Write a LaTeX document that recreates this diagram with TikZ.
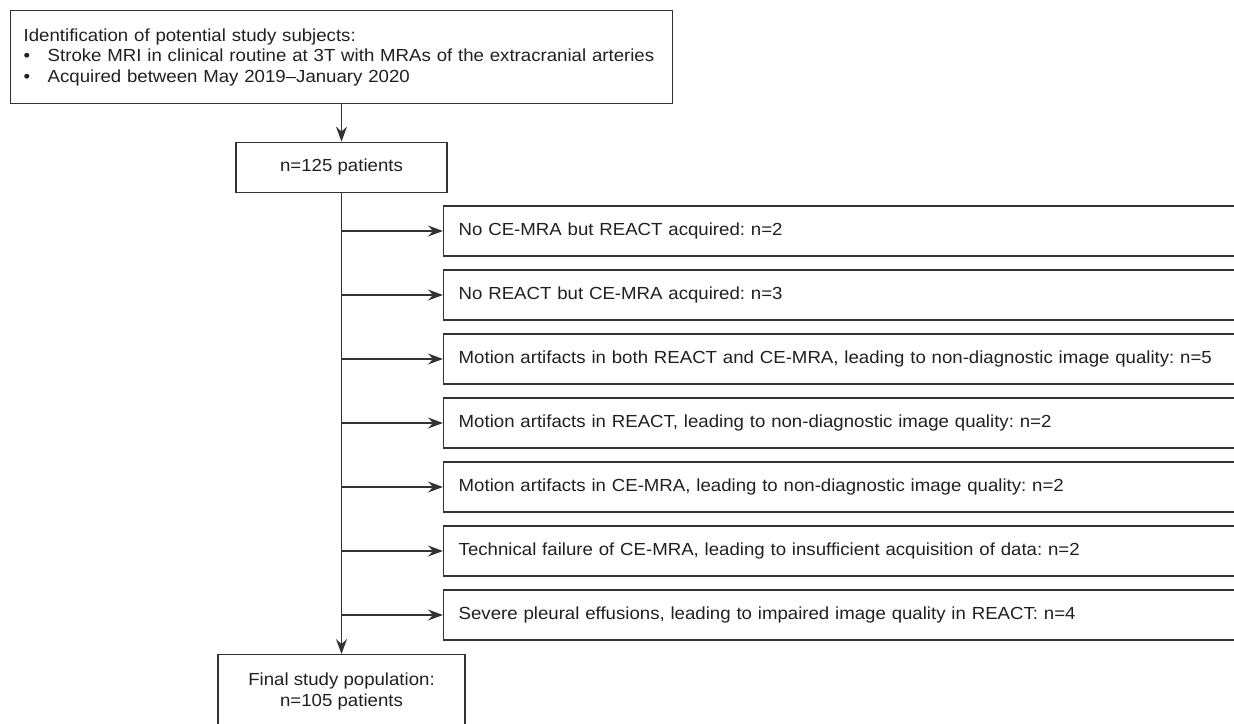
\documentclass[tikz,border=0pt]{standalone}
\usepackage{fontspec}
\setmainfont{Liberation Sans}[FakeStretch=1.065]
\usetikzlibrary{arrows.meta}
\definecolor{ink}{HTML}{231F20}
\definecolor{rulec}{HTML}{333333}
\frenchspacing
\begin{document}
\begin{tikzpicture}[x=1pt,y=-1pt,
  box/.style={draw=rulec, line width=1.4pt, text=ink, font=\fontsize{17.5}{20.5}\selectfont, inner sep=0pt},
  exbox/.style={box, anchor=west, minimum height=50pt, inner xsep=15pt, text width=800pt, align=left},
  arr/.style={draw=rulec, line width=1.4pt, -{Stealth[length=15pt,width=11pt,inset=5pt]}},
  ]
\useasboundingbox (0,0) rectangle (1234,723);
\clip (0,0) rectangle (1234,723);

\node[box, anchor=north west, minimum height=93pt, inner xsep=4pt, text width=654pt, align=left] (top) at (10,10)
  {\hspace*{9pt}Identification of potential study subjects:\\
   \hspace*{9pt}\makebox[24pt][l]{\textbullet}Stroke MRI in clinical routine at 3T with MRAs of the extracranial arteries\\
   \hspace*{9pt}\makebox[24pt][l]{\textbullet}Acquired between May 2019–January 2020};

\node[box, minimum width=211pt, minimum height=50pt] (n) at (341.5,167.3) {n=125 patients};

\node[exbox] (e1) at (443,231) {No CE-MRA but REACT acquired: n=2};
\node[exbox] (e2) at (443,295) {No REACT but CE-MRA acquired: n=3};
\node[exbox] (e3) at (443,359) {Motion artifacts in both REACT and CE-MRA, leading to non-diagnostic image quality: n=5};
\node[exbox] (e4) at (443,423) {Motion artifacts in REACT, leading to non-diagnostic image quality: n=2};
\node[exbox] (e5) at (443,487) {Motion artifacts in CE-MRA, leading to non-diagnostic image quality: n=2};
\node[exbox] (e6) at (443,551) {Technical failure of CE-MRA, leading to insufficient acquisition of data: n=2};
\node[exbox] (e7) at (443,615) {Severe pleural effusions, leading to impaired image quality in REACT: n=4};

\node[box, anchor=north, minimum width=247pt, minimum height=74pt, align=center] (fin) at (341.5,654)
  {Final study population:\\n=105 patients};

\draw[arr] (top.south -| n.north) -- (n.north);
\draw[arr] (n.south) -- (fin.north);
\foreach \i in {1,...,7} {
  \draw[arr] (n.south |- e\i.west) -- (e\i.west);
}
\end{tikzpicture}
\end{document}
